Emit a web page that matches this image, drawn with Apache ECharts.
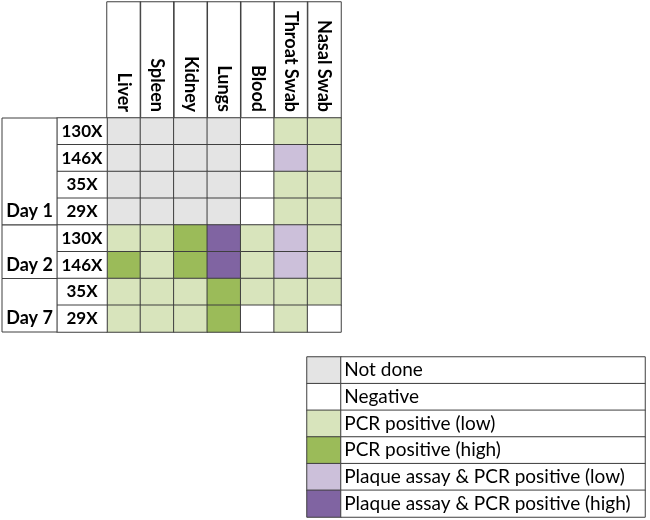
<!DOCTYPE html>
<html>
<head>
<meta charset="utf-8">
<script src="https://cdn.jsdelivr.net/npm/echarts@6/dist/echarts.min.js"></script>
<style>html,body{margin:0;padding:0;background:#fff}#c{width:650px;height:520px}</style>
</head>
<body>
<div id="c"></div>
<script>
const columns = ['Liver','Spleen','Kidney','Lungs','Blood','Throat Swab','Nasal Swab'];
const rowLabels = ['130X','146X','35X','29X','130X','146X','35X','29X'];
const dayLabels = ['Day 1','Day 2','Day 7'];
const dayStart = [0,4,6];
const dayEnd = [3,5,7];
// 0 Not done, 1 Negative, 2 PCR low, 3 PCR high, 4 Plaque low, 5 Plaque high
const status = [
  [0,0,0,0,1,2,2],
  [0,0,0,0,1,4,2],
  [0,0,0,0,1,2,2],
  [0,0,0,0,1,2,2],
  [2,2,3,5,2,4,2],
  [3,2,3,5,2,4,2],
  [2,2,2,3,2,2,2],
  [2,2,2,3,1,2,1]
];
const legendLabels = ['Not done','Negative','PCR positive (low)','PCR positive (high)','Plaque assay & PCR positive (low)','Plaque assay & PCR positive (high)'];
const statusColors = ['#e4e4e4','#ffffff','#d8e4bc','#9bbb59','#ccc0da','#8064a2'];

const LINE = '#3f3f3f';
const FONT = 'Lato';
const rowIdx = rowLabels.map((_, i) => i);
const legIdx = legendLabels.map((_, i) => i);

const mainData = [];
status.forEach((row, r) => row.forEach((v, c) => {
  mainData.push({value: [c, r, v], itemStyle: {color: statusColors[v]}});
}));
const headerData = columns.map((_, c) => [c, 0, 0]);
const rowLabelData = rowLabels.map((_, r) => [0, r, 0]);
const dayData = dayLabels.map((_, i) => [0, dayStart[i], dayEnd[i], i]);
const swatchData = legendLabels.map((_, i) => ({value: [0, i, i], itemStyle: {color: statusColors[i]}}));
const legTextData = legendLabels.map((_, i) => [0, i, i]);

const cellStyle = {borderColor: LINE, borderWidth: 1};
const noAxis = {axisLine: {show: false}, axisTick: {show: false}, axisLabel: {show: false}, splitLine: {show: false}};

const chart = echarts.init(document.getElementById('c'), null, {renderer: 'canvas'});
chart.setOption({
  animation: false,
  grid: [
    {left: 107, top: 118, width: 234, height: 214},  // main
    {left: 107, top: 2, width: 234, height: 116},    // header
    {left: 57, top: 118, width: 50, height: 214},    // row labels
    {left: 2, top: 118, width: 55, height: 214},     // day column
    {left: 307, top: 357, width: 34, height: 160},   // legend swatch
    {left: 341, top: 357, width: 304, height: 160}   // legend text
  ],
  xAxis: [
    {gridIndex: 0, type: 'category', data: columns, position: 'top',
      axisLine: {show: false}, axisTick: {show: false}, splitLine: {show: false},
      axisLabel: {rotate: 90, margin: 6, fontFamily: FONT, fontWeight: 'bold', fontSize: 18, color: '#000', interval: 0}},
    Object.assign({gridIndex: 1, type: 'category', data: columns}, noAxis),
    Object.assign({gridIndex: 2, type: 'category', data: ['r']}, noAxis),
    Object.assign({gridIndex: 3, type: 'category', data: ['d']}, noAxis),
    Object.assign({gridIndex: 4, type: 'category', data: ['s']}, noAxis),
    Object.assign({gridIndex: 5, type: 'category', data: ['t']}, noAxis)
  ],
  yAxis: [
    Object.assign({gridIndex: 0, type: 'category', data: rowIdx, inverse: true}, noAxis),
    Object.assign({gridIndex: 1, type: 'category', data: ['h']}, noAxis),
    Object.assign({gridIndex: 2, type: 'category', data: rowIdx, inverse: true}, noAxis),
    Object.assign({gridIndex: 3, type: 'category', data: rowIdx, inverse: true}, noAxis),
    Object.assign({gridIndex: 4, type: 'category', data: legIdx, inverse: true}, noAxis),
    Object.assign({gridIndex: 5, type: 'category', data: legIdx, inverse: true}, noAxis)
  ],
  series: [
    {type: 'heatmap', xAxisIndex: 0, yAxisIndex: 0, data: mainData, itemStyle: cellStyle,
      emphasis: {disabled: true}, label: {show: false}},
    {type: 'heatmap', xAxisIndex: 1, yAxisIndex: 1, data: headerData, z: 1,
      itemStyle: {color: 'rgba(0,0,0,0)', borderColor: LINE, borderWidth: 1},
      emphasis: {disabled: true}, label: {show: false}},
    {type: 'heatmap', xAxisIndex: 2, yAxisIndex: 2, data: rowLabelData,
      itemStyle: {color: '#fff', borderColor: LINE, borderWidth: 1}, emphasis: {disabled: true},
      label: {show: true, formatter: p => rowLabels[p.value[1]], fontFamily: FONT, fontWeight: 'bold', fontSize: 17, color: '#000'}},
    {type: 'custom', xAxisIndex: 3, yAxisIndex: 3, data: dayData,
      renderItem: function (params, api) {
        const p0 = api.coord([0, api.value(1)]);
        const p1 = api.coord([0, api.value(2)]);
        const s = api.size([1, 1]);
        const x = p0[0] - s[0] / 2, y = p0[1] - s[1] / 2;
        const w = s[0], h = p1[1] - p0[1] + s[1];
        return {type: 'group', children: [
          {type: 'rect', shape: {x: x, y: y, width: w, height: h},
            style: {fill: '#fff', stroke: LINE, lineWidth: 1}},
          {type: 'text', x: x + w / 2, y: p1[1],
            style: {text: dayLabels[api.value(3)], textAlign: 'center', textVerticalAlign: 'middle',
              font: 'bold 18px ' + FONT, fill: '#000'}}
        ]};
      }},
    {type: 'heatmap', xAxisIndex: 4, yAxisIndex: 4, data: swatchData, itemStyle: cellStyle,
      emphasis: {disabled: true}, label: {show: false}},
    {type: 'heatmap', xAxisIndex: 5, yAxisIndex: 5, data: legTextData,
      itemStyle: {color: '#fff', borderColor: LINE, borderWidth: 1}, emphasis: {disabled: true},
      label: {show: true, position: 'insideLeft', distance: 4, formatter: p => legendLabels[p.value[1]],
        fontFamily: FONT, fontSize: 19, color: '#000'}}
  ]
});
</script>
</body>
</html>
